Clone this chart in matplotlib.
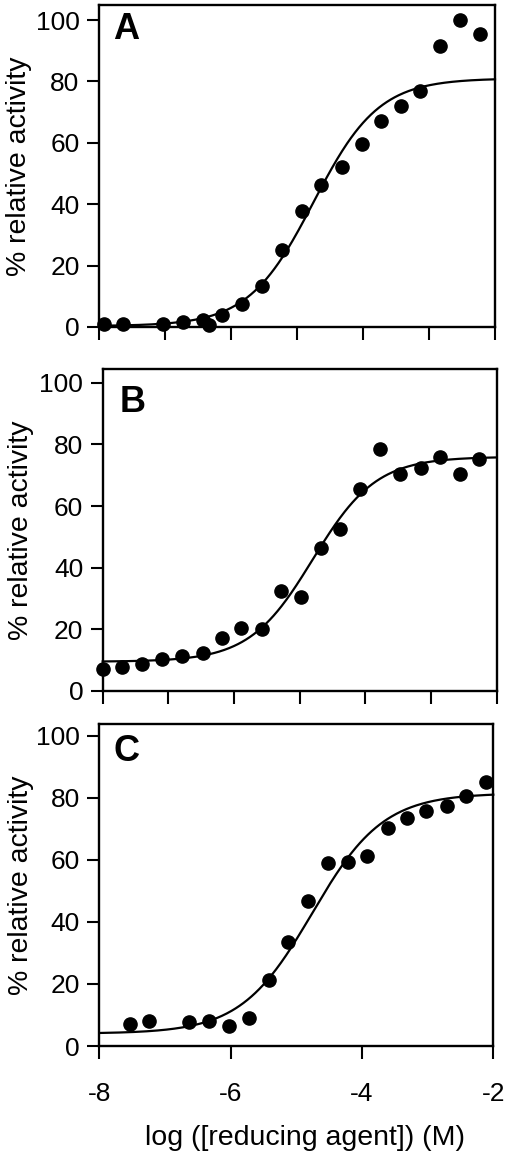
import numpy as np
import matplotlib
matplotlib.use("Agg")
import matplotlib.pyplot as plt

plt.rcParams['font.family'] = ['Liberation Sans', 'DejaVu Sans']
plt.rcParams['axes.unicode_minus'] = False

# panel A: log[reducing agent] vs % relative activity
a_x = [-7.93, -7.63, -7.03, -6.72, -6.43, -6.34, -6.13, -5.83, -5.53, -5.23,
       -4.92, -4.63, -4.32, -4.02, -3.72, -3.43, -3.14, -2.83, -2.53, -2.23]
a_y = [1.0, 1.0, 1.0, 1.7, 2.3, 0.7, 3.9, 7.5, 13.5, 25.0,
       37.8, 46.3, 52.2, 59.5, 67.2, 72.0, 77.0, 91.5, 100.0, 95.3]

# panel B
b_x = [-8.00, -7.70, -7.40, -7.09, -6.79, -6.48, -6.18, -5.89, -5.58, -5.28,
       -4.98, -4.68, -4.38, -4.08, -3.77, -3.47, -3.16, -2.87, -2.56, -2.27]
b_y = [7.1, 7.7, 8.7, 10.3, 11.5, 12.2, 17.1, 20.6, 20.0, 32.6,
       30.6, 46.3, 52.5, 65.6, 78.4, 70.5, 72.3, 76.1, 70.5, 75.2]

# panel C
c_x = [-7.54, -7.24, -6.63, -6.33, -6.03, -5.72, -5.42, -5.12, -4.82, -4.52,
       -4.22, -3.92, -3.61, -3.32, -3.02, -2.71, -2.41, -2.11]
c_y = [7.1, 8.2, 7.7, 8.2, 6.6, 8.9, 21.4, 33.5, 46.9, 59.0,
       59.3, 61.3, 70.4, 73.4, 75.9, 77.4, 80.6, 85.0]

# sigmoid fit parameters: bottom, top, logEC50, hill
a_fit = (0.3, 81.0, -4.75, 0.88)
b_fit = (9.5, 76.0, -4.80, 0.90)
c_fit = (4.0, 81.5, -4.76, 0.80)

panel_labels = ['A', 'B', 'C']


def dose_response(x, bottom, top, logec50, hill):
    return bottom + (top - bottom) / (1 + 10 ** ((logec50 - x) * hill))


W, H = 506, 1159
fig = plt.figure(figsize=(W / 100, H / 100), dpi=100)

# axes boxes in pixels: left, right, top, bottom
boxes = [(99, 495, 5, 327), (102.7, 496.7, 369, 691), (99.3, 493.3, 724, 1046)]
ytops = [104.9, 104.5, 103.8]
letter_pos = [(0.035, 0.894), (0.044, 0.866), (0.035, 0.885)]
ylab_x = [-0.169, -0.174, -0.166]

panels = [(a_x, a_y, a_fit), (b_x, b_y, b_fit), (c_x, c_y, c_fit)]
xs = np.linspace(-8, -2, 400)

for i, (px, py, fit) in enumerate(panels):
    l, r, t, b = boxes[i]
    ax = fig.add_axes([l / W, (H - b) / H, (r - l) / W, (b - t) / H])
    ax.plot(xs, dose_response(xs, *fit), color='black', lw=1.6, clip_on=False)
    ax.plot(px, py, 'o', color='black', ms=9.5, clip_on=False)

    ax.set_xlim(-8, -2)
    ax.set_ylim(0, ytops[i])
    ax.set_yticks([0, 20, 40, 60, 80, 100])
    for s in ax.spines.values():
        s.set_linewidth(1.7)
    ax.tick_params(direction='out', length=9, width=1.5, labelsize=19, pad=5)

    if i < 2:
        ax.set_xticks([-8, -7, -6, -5, -4, -3, -2])
        ax.set_xticklabels([])
    else:
        ax.set_xticks([-8, -6, -4, -2])
        ax.tick_params(axis='x', pad=17)
        ax.set_xlabel('log ([reducing agent]) (M)', fontsize=20.5)
        ax.xaxis.set_label_coords(0.523, -0.245)
        ax.xaxis.label.set_va('top')

    ax.set_ylabel('% relative activity', fontsize=20.5)
    ax.yaxis.set_label_coords(ylab_x[i], 0.5)

    ax.text(letter_pos[i][0], letter_pos[i][1], panel_labels[i],
            transform=ax.transAxes, fontsize=26, fontweight='bold',
            ha='left', va='baseline')

fig.savefig('out.png', dpi=100)
